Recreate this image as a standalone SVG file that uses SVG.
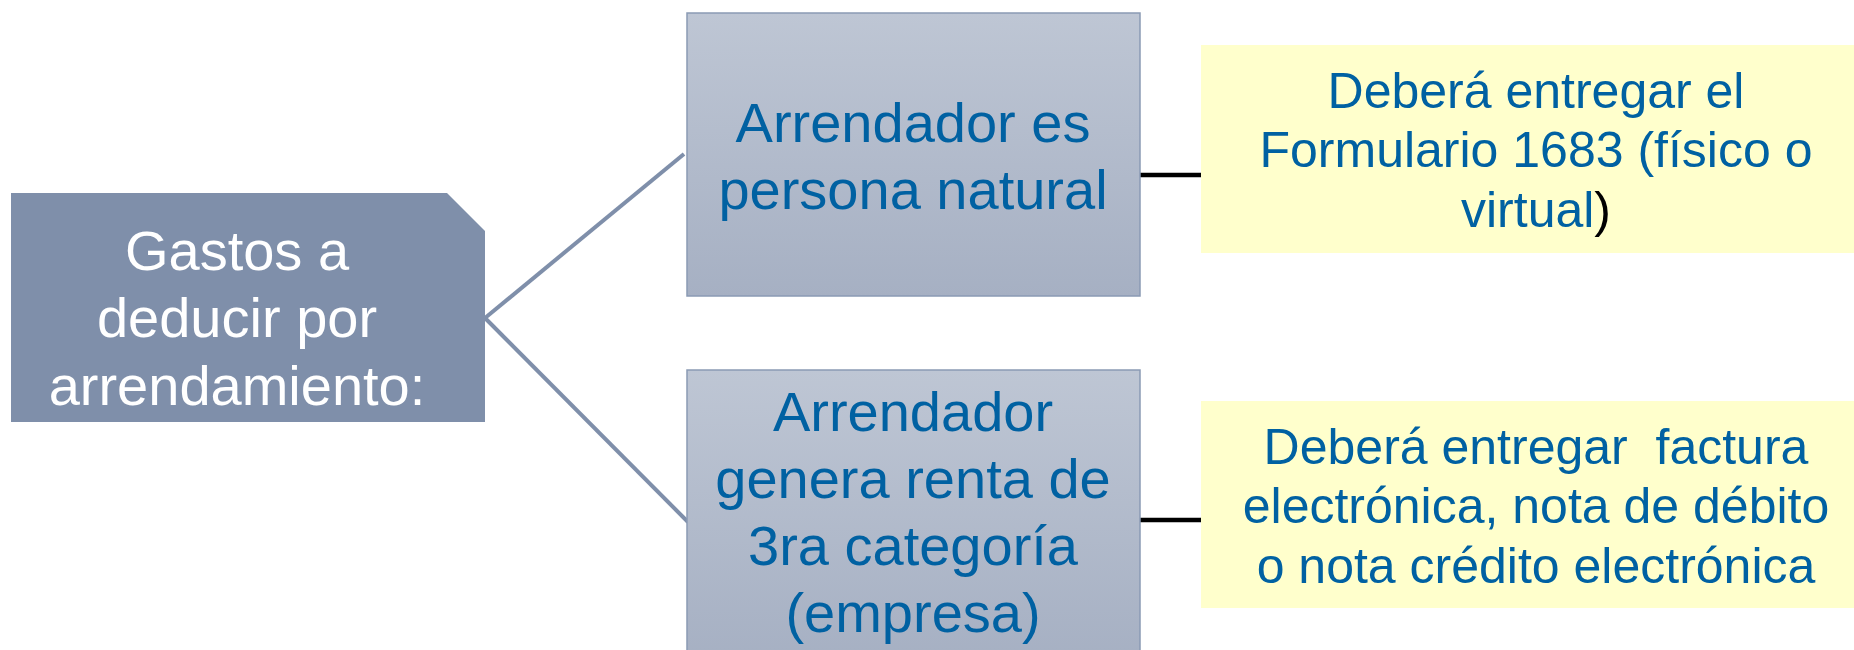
<svg xmlns="http://www.w3.org/2000/svg" width="1854" height="650" viewBox="0 0 1854 650">
<defs>
<linearGradient id="gBox" x1="0" y1="0" x2="0" y2="1">
<stop offset="0" stop-color="#bec6d4"/>
<stop offset="1" stop-color="#a6b0c3"/>
</linearGradient>
<style>
.t{font-family:"Liberation Sans",Arial,sans-serif;text-anchor:middle}
.w{fill:#ffffff;font-size:56px}
.b{fill:#0061a2;font-size:56px}
.y{fill:#0061a2;font-size:50px}
.mid{fill:url(#gBox);stroke:#8a9ab4;stroke-width:1.5}
.yel{fill:#ffffcc}
.cg{stroke:#7f8faa;stroke-width:4;fill:none}
.ck{stroke:#000000;stroke-width:4.5;fill:none}
</style>
</defs>
<rect width="1854" height="650" fill="#ffffff"/>
<g id="connectors">
<line class="cg" x1="485" y1="318" x2="684" y2="154"/>
<line class="cg" x1="485" y1="318" x2="688" y2="522"/>
<line class="ck" x1="1140" y1="175" x2="1201" y2="175"/>
<line class="ck" x1="1140" y1="520" x2="1201" y2="520"/>
</g>
<g id="root">
<path d="M11 193 H447 L485 231 V422 H11 Z" fill="#7f8faa"/>
<text class="t w" x="237" y="270">Gastos a</text>
<text class="t w" x="237" y="337">deducir por</text>
<text class="t w" x="237" y="405">arrendamiento:</text>
</g>
<g id="natural">
<rect class="mid" x="687" y="13" width="453" height="283"/>
<text class="t b" x="913" y="142">Arrendador es</text>
<text class="t b" x="913" y="209">persona natural</text>
</g>
<g id="empresa">
<rect class="mid" x="687" y="370" width="453" height="290"/>
<text class="t b" x="913" y="431">Arrendador</text>
<text class="t b" x="913" y="498">genera renta de</text>
<text class="t b" x="913" y="565">3ra categoría</text>
<text class="t b" x="913" y="632">(empresa)</text>
</g>
<g id="formulario">
<rect class="yel" x="1201" y="45" width="660" height="208"/>
<text class="t y" x="1536" y="108">Deberá entregar el</text>
<text class="t y" x="1536" y="167">Formulario 1683 (físico o</text>
<text class="t y" x="1536" y="227">virtual<tspan fill="#000000">)</tspan></text>
</g>
<g id="factura">
<rect class="yel" x="1201" y="401" width="660" height="207"/>
<text class="t y" x="1536" y="464" xml:space="preserve">Deberá entregar  factura</text>
<text class="t y" x="1536" y="523">electrónica, nota de débito</text>
<text class="t y" x="1536" y="583">o nota crédito electrónica</text>
</g>
</svg>
